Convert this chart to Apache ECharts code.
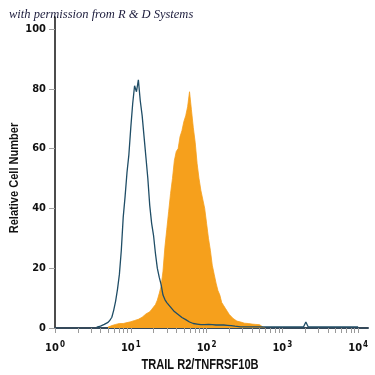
<!DOCTYPE html>
<html>
<head>
<meta charset="utf-8">
<script src="https://cdn.jsdelivr.net/npm/echarts@6/dist/echarts.min.js"></script>
<style>html,body{margin:0;padding:0;background:#fff}#c{width:375px;height:375px}</style>
</head>
<body>
<div id="c"></div>
<script>
// ---- data (x in log10 units of fluorescence intensity) ----
const titleText = 'with permission from R & D Systems';
const xAxisName = 'TRAIL R2/TNFRSF10B';
const yAxisName = 'Relative Cell Number';
const yTickValues = [0, 20, 40, 60, 80, 100];
const xDecadeExponents = [0, 1, 2, 3, 4];

// isotype control (blue outline)
const blueStart = 0.55;
const blueStep = 0.025;
const blueValues = [0.3,0.4,0.6,0.9,1.2,1.5,1.9,2.6,3.6,6,9,13,18,26,37,44,52,58,67,75,81,79,83,76,71,64,57,50,41,35,31,25,20,17,14.5,11,9.5,8.5,8,7,6.5,5.5,5.2,4.5,4.3,3.5,3.4,2.8,2.4,2,1.8,1.5,1.4,1.3,1.2,1.1,1.2,1.1,1.1,1.2,1.0,1.1,1.2,1.0,1.1,1.0,1.1,1.0,1.0,0.9,0.9,0.8,0.7,0.6,0.4];
const blueTail = [[2.45,0.4],[3.28,0.4],[3.31,2],[3.34,0.4],[4.0,0.4]];

// TRAIL R2 stained (orange filled)
const orangeStart = 0.7;
const orangeStep = 0.025;
const orangeValues = [0.3,0.5,0.8,1,1.2,1.4,1.5,1.6,1.5,1.6,1.8,2,2.1,2.3,2.5,2.7,2.9,3.1,3.6,4.2,4.7,5,5.4,6.2,7,7.8,9.3,11.5,14,19,27,33,39,45,50,56,59,60,64,66,69,71,74,79,73,67,62,55,50,46,43,40,35,30,26,21,18,15,12.5,11,8.5,7.5,6.5,5.5,4.5,4,3.2,2.8,2.3,2.1,2,1.8,1.6,1.5,1.5,1.4,1.3,1.2,1.2,1.1,1.1,0.8,0.2,0];

const blueData = blueValues.map((v, i) => [blueStart + i * blueStep, v]).concat(blueTail);
const orangeData = orangeValues.map((v, i) => [orangeStart + i * orangeStep, v]);

const xTickValues = [];
xDecadeExponents.forEach(e => {
  if (e < 4) { for (let k = 1; k <= 9; k++) xTickValues.push(e + Math.log10(k)); }
  else xTickValues.push(e);
});

const condensed = '"DejaVu Sans Condensed", "Liberation Sans Narrow", "Liberation Sans", sans-serif';

const chart = echarts.init(document.getElementById('c'), null, {renderer: 'canvas'});
chart.setOption({
  animation: false,
  backgroundColor: '#fff',
  grid: {left: 55, right: 7, top: 17, bottom: 47, containLabel: false, outerBoundsMode: 'none'},
  graphic: [
    {
      type: 'text', left: 9, top: 8,
      style: {text: titleText, font: 'italic 12.5px "Liberation Serif", "DejaVu Serif", serif', fill: '#1c1c3c'}
    },
    {
      type: 'text', x: 200, y: 365, scaleX: 0.74,
      style: {text: xAxisName, font: 'bold 15px "Liberation Sans", sans-serif', fill: '#111', align: 'center', verticalAlign: 'middle'}
    },
    {
      type: 'text', x: 14, y: 178, rotation: Math.PI / 2, scaleX: 0.85,
      style: {text: yAxisName, font: 'bold 13px "Liberation Sans", sans-serif', fill: '#111', align: 'center', verticalAlign: 'middle'}
    }
  ],
  xAxis: {
    type: 'value', min: 0, max: 4.13,
    axisLine: {show: true, onZero: false, lineStyle: {color: '#35495a', width: 2}},
    axisTick: {show: true, customValues: xTickValues, length: 5, lineStyle: {color: '#9a9a9a', width: 1}},
    axisLabel: {
      customValues: xDecadeExponents, margin: 13,
      formatter: v => '{b|10}{s|' + Math.round(v) + '}',
      rich: {
        b: {fontFamily: condensed, fontWeight: 'bold', fontSize: 11, color: '#111', lineHeight: 14},
        s: {fontFamily: condensed, fontWeight: 'bold', fontSize: 8, color: '#111', verticalAlign: 'top', lineHeight: 14, padding: [0, 0, 5, 1]}
      }
    },
    splitLine: {show: false}
  },
  yAxis: {
    type: 'value', min: 0, max: 104,
    axisLine: {show: true, lineStyle: {color: '#111', width: 1.5}},
    axisTick: {show: true, customValues: yTickValues, length: 6, lineStyle: {color: '#a0a0a0', width: 1}},
    axisLabel: {customValues: yTickValues, margin: 9, fontFamily: condensed, fontWeight: 'bold', fontSize: 11, color: '#111'},
    splitLine: {show: false}
  },
  series: [
    {
      type: 'line', data: orangeData, showSymbol: false, smooth: false,
      lineStyle: {width: 0.8, color: '#f5a01e'},
      areaStyle: {color: '#f6a01c', opacity: 1},
      z: 2
    },
    {
      type: 'line', data: blueData, showSymbol: false, smooth: false,
      lineStyle: {width: 1.3, color: '#1f4d66'},
      z: 3
    }
  ]
});
</script>
</body>
</html>
